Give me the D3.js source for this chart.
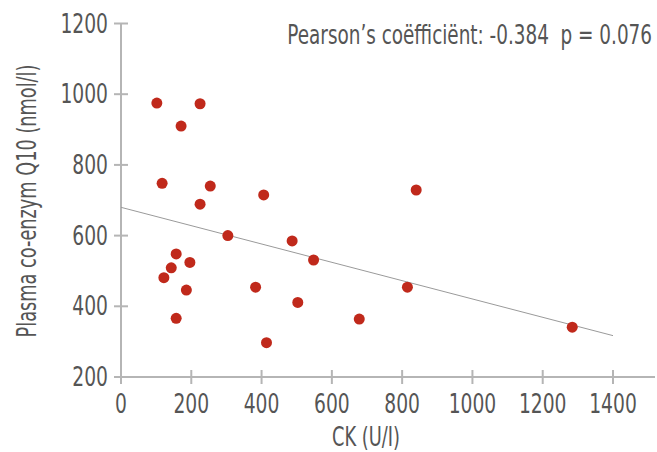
<!DOCTYPE html>
<html>
<head>
<meta charset="utf-8">
<script src="https://cdn.jsdelivr.net/npm/d3@7"></script>
<style>
body { margin: 0; background: #fff; }
svg text { font-family: "DejaVu Sans Condensed", "Liberation Sans Narrow", sans-serif; fill: #555; }
</style>
</head>
<body>
<div id="chart"></div>
<script>
// CK (U/l) vs plasma co-enzym Q10 (nmol/l)
var ck  = [102, 225, 171, 117, 254, 225, 406, 840, 304, 487, 548, 157, 196, 143, 122, 186, 383, 815, 503, 157, 678, 414, 1284];
var q10 = [975, 973, 910, 748, 740, 689, 715, 729, 600, 585, 531, 548, 524, 509, 481, 446, 454, 454, 411, 366, 364, 297, 341];

// regression line
var trendX = [0, 1400];
var trendY = [680, 317];

var xTicks = [0, 200, 400, 600, 800, 1000, 1200, 1400];
var yTicks = [200, 400, 600, 800, 1000, 1200];

var width = 657, height = 452;

var x = d3.scaleLinear().domain([0, 1400]).range([121, 613]);
var y = d3.scaleLinear().domain([200, 1200]).range([377, 23.5]);

var svg = d3.select("#chart").append("svg")
  .attr("width", width)
  .attr("height", height);

var axisColor = "#b5b5b5";

// condensed look: text drawn at 0,0 inside a group, group is squeezed horizontally
function label(parent, px, py, txt, anchor, sx, rot) {
  var g = parent.append("g")
    .attr("transform", "translate(" + px + "," + py + ")" + (rot ? " rotate(" + rot + ")" : "") + " scale(" + sx + ",1)");
  var t = g.append("text")
    .attr("text-anchor", anchor)
    .style("font-size", "26px")
    .text(txt);
  return t;
}
// squeeze so the text gets a given width
function fit(parent, px, py, txt, anchor, w, rot) {
  var t = label(parent, px, py, txt, anchor, 1, rot);
  var sx = w / t.node().getComputedTextLength();
  d3.select(t.node().parentNode)
    .attr("transform", "translate(" + px + "," + py + ")" + (rot ? " rotate(" + rot + ")" : "") + " scale(" + sx + ",1)");
  return t;
}

// x axis
var gx = svg.append("g").attr("transform", "translate(0," + y(200) + ")");
gx.append("line")
  .attr("x1", 114).attr("x2", 655)
  .attr("stroke", axisColor).attr("stroke-width", 2);
gx.selectAll(".tick").data(xTicks).enter().append("line")
  .attr("x1", function(d) { return x(d); })
  .attr("x2", function(d) { return x(d); })
  .attr("y1", -7).attr("y2", 7)
  .attr("stroke", axisColor).attr("stroke-width", 2);
xTicks.forEach(function(d) {
  label(gx, x(d), 36, d, "middle", 0.8);
});

// y axis
var gy = svg.append("g").attr("transform", "translate(" + x(0) + ",0)");
gy.append("line")
  .attr("y1", y(1200)).attr("y2", y(200) + 7)
  .attr("stroke", axisColor).attr("stroke-width", 2);
gy.selectAll(".tick").data(yTicks).enter().append("line")
  .attr("y1", function(d) { return y(d); })
  .attr("y2", function(d) { return y(d); })
  .attr("x1", -7).attr("x2", 7)
  .attr("stroke", axisColor).attr("stroke-width", 2);
yTicks.forEach(function(d) {
  label(gy, -13, y(d) + 9, d, "end", 0.8);
});

// axis titles
fit(svg, 366, 446, "CK (U/I)", "middle", 68);
fit(svg, 36, 201, "Plasma co-enzym Q10 (nmol/l)", "middle", 273, -90);

// trend line
svg.append("line")
  .attr("x1", x(trendX[0])).attr("y1", y(trendY[0]))
  .attr("x2", x(trendX[1])).attr("y2", y(trendY[1]))
  .attr("stroke", "#9a9a9a").attr("stroke-width", 1);

// points
svg.selectAll("circle")
  .data(d3.range(ck.length))
  .enter().append("circle")
  .attr("cx", function(i) { return x(ck[i]); })
  .attr("cy", function(i) { return y(q10[i]); })
  .attr("r", 5.5)
  .style("fill", "#c0291b");

fit(svg, 652, 44, "Pearson\u2019s coëfficiënt: -0.384\u00a0 p = 0.076", "end", 365);
</script>
</body>
</html>
